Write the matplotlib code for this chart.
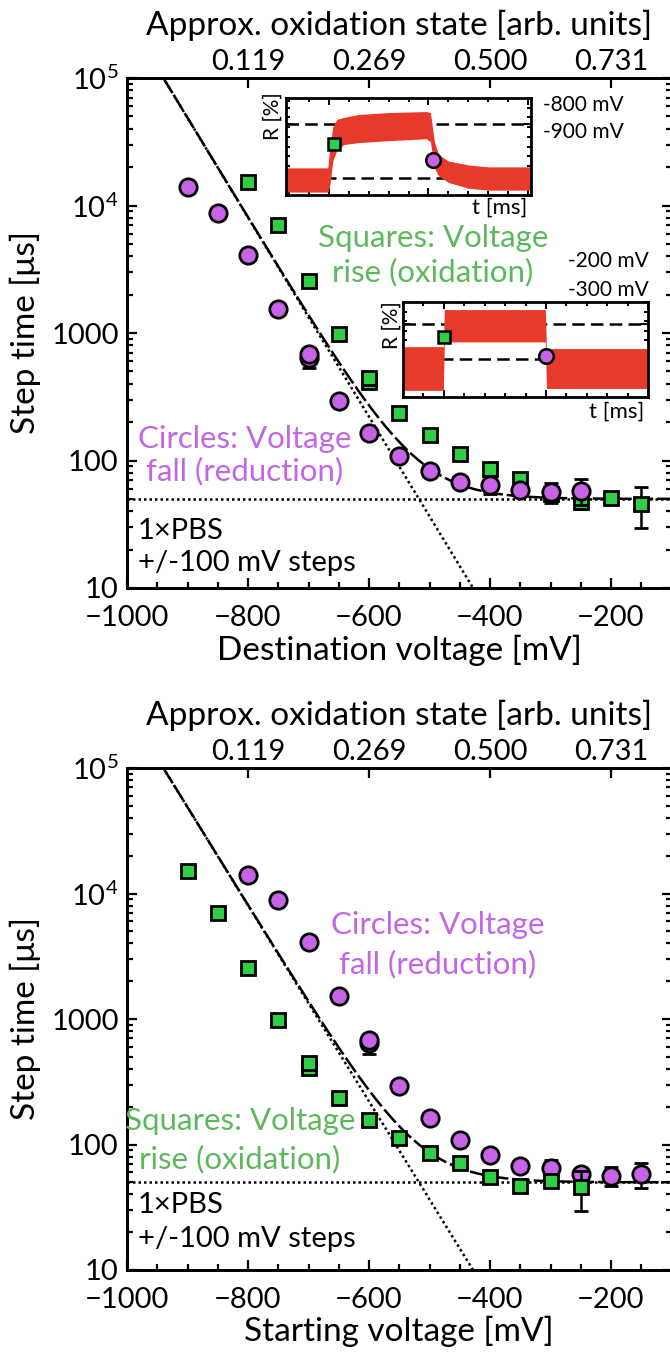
import numpy as np
import matplotlib
matplotlib.use("Agg")
import matplotlib.pyplot as plt
from matplotlib.ticker import FixedLocator, MultipleLocator, LogLocator, NullFormatter, FixedFormatter, NullLocator

plt.rcParams['font.family'] = ['Lato', 'DejaVu Sans']
plt.rcParams['mathtext.fontset'] = 'custom'
plt.rcParams['mathtext.rm'] = 'Lato'
plt.rcParams['axes.unicode_minus'] = True

# ---------------- data ----------------
dest_circ = [-900, -850, -800, -750, -700, -650, -600, -550, -500, -450, -400, -350, -300, -250]
circ_vals = [14000, 8800, 4080, 1535, 684, 294, 163, 108, 82, 67.7, 64.6, 58.7, 56.6, 58]
circ_err = [0, 0, 0, 0, 0, 0, 0, 0, 0, 0, 10, 0, 10, 13]
dest_circ_extra = [-700]
circ_extra_vals = [640]
circ_extra_err = [110]

dest_sq = [-800, -750, -700, -650, -600, -550, -500, -450, -400, -350, -300, -250, -200, -150]
sq_vals = [15200, 7000, 2570, 980, 446, 236, 158, 112, 86, 71, 55, 47, 51, 45.5]
sq_err = [0, 0, 0, 0, 0, 0, 0, 0, 0, 0, 4, 5, 3, 16]
dest_sq_extra = [-600]
sq_extra_vals = [410]
sq_extra_err = [25]

step_mv = 100  # +/-100 mV steps
fit_v_at_1e5 = -940.0
fit_mv_per_decade = 128.0
plateau_us = 50.0

top_tick_v = [-800, -600, -400, -200]
top_tick_labels = ['0.119', '0.269', '0.500', '0.731']
ytick_vals = [10, 100, 1000, 1e4, 1e5]
ytick_labels = ['10', '100', '1000', r'10$^4$', r'10$^5$']

# inset traces (fraction of box height), time in units of step period
in1_t = [-0.43, -0.01, 0.01, 0.04, 0.08, 0.15, 0.30, 0.60, 0.98, 1.02, 1.06, 1.10, 1.20, 1.40, 1.60, 2.03]
in1_up = [0.28, 0.28, 0.50, 0.70, 0.78, 0.80, 0.83, 0.85, 0.86, 0.85, 0.55, 0.42, 0.35, 0.31, 0.29, 0.29]
in1_lo = [0.03, 0.03, 0.10, 0.35, 0.46, 0.52, 0.54, 0.56, 0.58, 0.55, 0.28, 0.20, 0.13, 0.07, 0.05, 0.05]
in1_levels = [0.73, 0.18]
in1_sq = (0.05, 0.524)
in1_ci = (1.05, 0.362)

in2_t = [-0.40, -0.005, 0.005, 0.995, 1.005, 2.0]
in2_up = [0.53, 0.53, 0.92, 0.92, 0.51, 0.51]
in2_lo = [0.07, 0.07, 0.58, 0.58, 0.09, 0.09]
in2_levels = [0.77, 0.40]
in2_sq = (0.0, 0.63)
in2_ci = (1.0, 0.43)

PURPLE = '#C663E6'
GREEN = '#2FCF45'
TXT_PURPLE = '#C266E6'
TXT_GREEN = '#5DB85D'
RED = '#E83A2A'

W, H = 670, 1356
fig = plt.figure(figsize=(W / 100, H / 100), dpi=100)


def rect(x0, y0, x1, y1):
    return [x0 / W, 1 - y1 / H, (x1 - x0) / W, (y1 - y0) / H]


def fp(x, y):
    return (x / W, 1 - y / H)


FS_TICK = 21
FS_LAB = 24
FS_ANN = 22.5
FS_PBS = 21
FS_IN = 15


def style_main(ax):
    ax.set_yscale('log')
    ax.set_xlim(-1000, -100)
    ax.set_ylim(10, 1e5)
    ax.xaxis.set_major_locator(MultipleLocator(200))
    ax.xaxis.set_minor_locator(MultipleLocator(50))
    ax.yaxis.set_major_locator(FixedLocator(ytick_vals))
    ax.yaxis.set_major_formatter(FixedFormatter(ytick_labels))
    ax.yaxis.set_minor_locator(LogLocator(base=10, subs=np.arange(2, 10)))
    ax.yaxis.set_minor_formatter(NullFormatter())
    ax.tick_params(which='both', direction='in', top=False, right=True, width=1.6, labelsize=FS_TICK)
    ax.tick_params(which='major', length=7)
    ax.tick_params(which='minor', length=4)
    ax.tick_params(axis='x', pad=12)
    ax.tick_params(axis='y', pad=6)
    for s in ax.spines.values():
        s.set_linewidth(2.0)
    ax.set_ylabel('Step time [μs]', fontsize=FS_LAB, labelpad=7)
    top = ax.twiny()
    top.set_xlim(ax.get_xlim())
    top.xaxis.set_major_locator(FixedLocator(top_tick_v))
    top.xaxis.set_major_formatter(FixedFormatter(top_tick_labels))
    top.xaxis.set_minor_locator(NullLocator())
    top.tick_params(direction='in', length=7, width=1.6, labelsize=FS_TICK, pad=2)
    top.set_xlabel('Approx. oxidation state [arb. units]', fontsize=FS_LAB, labelpad=10)
    for s in top.spines.values():
        s.set_linewidth(2.0)
    return top


def draw_fits(ax):
    v_all = np.linspace(fit_v_at_1e5 - 20, -100, 400)
    expo = 1e5 * 10 ** (-(v_all - fit_v_at_1e5) / fit_mv_per_decade)
    ax.plot(v_all, expo + plateau_us, color='black', lw=1.8, dashes=(7, 1.6), zorder=2)
    ax.plot(v_all, expo, color='black', lw=1.8, linestyle=(0, (1, 1.2)), zorder=2)
    ax.axhline(plateau_us, color='black', lw=1.8, linestyle=(0, (1, 1.2)), zorder=2)


def draw_points(ax, vx, vals, err, marker, color, ms, z):
    ax.errorbar(vx, vals, yerr=err, fmt=marker, ms=ms, mfc=color, mec='black', mew=2.0,
                ecolor='black', elinewidth=1.8, capsize=5, capthick=1.8, zorder=z)


# ---------------- top panel ----------------
ax1 = fig.add_axes(rect(127, 78, 127 + 544.5, 588))
style_main(ax1)
ax1.set_xlabel('Destination voltage [mV]', fontsize=FS_LAB, labelpad=3)
draw_fits(ax1)
draw_points(ax1, dest_sq_extra, sq_extra_vals, sq_extra_err, 's', GREEN, 10.5, 4)
draw_points(ax1, dest_sq, sq_vals, sq_err, 's', GREEN, 10.5, 4)
draw_points(ax1, dest_circ_extra, circ_extra_vals, circ_extra_err, 'o', PURPLE, 12.5, 5)
draw_points(ax1, dest_circ, circ_vals, circ_err, 'o', PURPLE, 12.5, 5)

fig.text(*fp(433, 255), 'Squares: Voltage\nrise (oxidation)', color=TXT_GREEN, fontsize=FS_ANN,
         ha='center', va='center', linespacing=1.22)
fig.text(*fp(245, 455), 'Circles: Voltage\nfall (reduction)', color=TXT_PURPLE, fontsize=FS_ANN,
         ha='center', va='center', linespacing=1.18)
fig.text(*fp(138, 547), '1×PBS\n+/-100 mV steps', color='black', fontsize=FS_PBS,
         ha='left', va='center', linespacing=1.25)

# ---------------- bottom panel ----------------
ax2 = fig.add_axes(rect(127, 768, 127 + 544.5, 1270))
style_main(ax2)
ax2.set_xlabel('Starting voltage [mV]', fontsize=FS_LAB, labelpad=2)
draw_fits(ax2)
start_circ = [v + step_mv for v in dest_circ]
start_circ_extra = [v + step_mv for v in dest_circ_extra]
start_sq = [v - step_mv for v in dest_sq]
start_sq_extra = [v - step_mv for v in dest_sq_extra]
draw_points(ax2, start_circ_extra, circ_extra_vals, circ_extra_err, 'o', PURPLE, 12.5, 4)
draw_points(ax2, start_circ, circ_vals, circ_err, 'o', PURPLE, 12.5, 4)
draw_points(ax2, start_sq_extra, sq_extra_vals, sq_extra_err, 's', GREEN, 10.5, 5)
draw_points(ax2, start_sq, sq_vals, sq_err, 's', GREEN, 10.5, 5)

fig.text(*fp(438, 945), 'Circles: Voltage\nfall (reduction)', color=TXT_PURPLE, fontsize=FS_ANN,
         ha='center', va='center', linespacing=1.45)
fig.text(*fp(240, 1140), 'Squares: Voltage\nrise (oxidation)', color=TXT_GREEN, fontsize=FS_ANN,
         ha='center', va='center', linespacing=1.42)
fig.text(*fp(138, 1222), '1×PBS\n+/-100 mV steps', color='black', fontsize=FS_PBS,
         ha='left', va='center', linespacing=1.42)


# ---------------- insets ----------------
def draw_inset(box, t, up, lo, levels, sq, ci, xlim):
    ax = fig.add_axes(rect(*box))
    ax.set_xlim(*xlim)
    ax.set_ylim(0, 1)
    ax.fill_between(t, lo, up, color=RED, lw=0, zorder=2)
    for lv in levels:
        ax.axhline(lv, color='black', lw=1.8, dashes=(5, 2.5), zorder=1)
    ax.plot([sq[0]], [sq[1]], 's', ms=9, mfc=GREEN, mec='black', mew=1.8, zorder=4)
    ax.plot([ci[0]], [ci[1]], 'o', ms=10.5, mfc=PURPLE, mec='black', mew=1.8, zorder=4)
    ax.xaxis.set_major_locator(MultipleLocator(1))
    ax.xaxis.set_minor_locator(MultipleLocator(0.2))
    ax.yaxis.set_major_locator(FixedLocator(levels))
    ax.yaxis.set_minor_locator(MultipleLocator(0.1))
    ax.tick_params(which='both', direction='in', top=True, right=True, labelbottom=False,
                   labelleft=False, width=1.4)
    ax.tick_params(which='major', length=5)
    ax.tick_params(which='minor', length=3)
    for s in ax.spines.values():
        s.set_linewidth(2.0)
    return ax


in1 = draw_inset((286, 98, 531, 195), in1_t, in1_up, in1_lo, in1_levels, in1_sq, in1_ci, (-0.43, 2.03))
in2 = draw_inset((403, 302, 648, 397), in2_t, in2_up, in2_lo, in2_levels, in2_sq, in2_ci, (-0.40, 2.0))

fig.text(*fp(273, 116), 'R [%]', rotation=90, fontsize=FS_IN, ha='center', va='center')
fig.text(*fp(500, 208), 't [ms]', fontsize=FS_IN + 1, ha='center', va='center')
fig.text(*fp(543, 105), '-800 mV', fontsize=FS_IN, ha='left', va='center')
fig.text(*fp(543, 132), '-900 mV', fontsize=FS_IN, ha='left', va='center')

fig.text(*fp(392, 325), 'R [%]', rotation=90, fontsize=FS_IN, ha='center', va='center')
fig.text(*fp(617, 412), 't [ms]', fontsize=FS_IN + 1, ha='center', va='center')
fig.text(*fp(568, 261), '-200 mV', fontsize=FS_IN, ha='left', va='center')
fig.text(*fp(568, 290), '-300 mV', fontsize=FS_IN, ha='left', va='center')

fig.savefig('out.png', dpi=100)
